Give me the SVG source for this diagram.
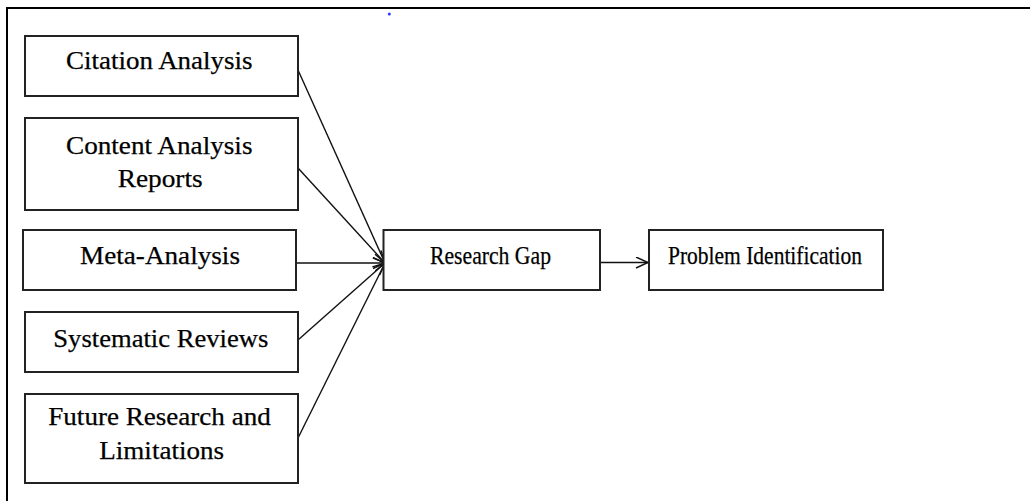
<svg xmlns="http://www.w3.org/2000/svg" width="1030" height="501" viewBox="0 0 1030 501">
<defs>
<style>
.box{fill:#fff;stroke:#222;stroke-width:2}
.lbl{font-family:"Liberation Serif","Times New Roman",serif;font-size:26px;fill:#000;stroke:#000;stroke-width:0.25}
.con{stroke:#111;stroke-width:1.4;fill:none;marker-end:url(#arr)}
</style>
<marker id="arr" markerUnits="userSpaceOnUse" markerWidth="16" markerHeight="14" refX="13" refY="6" orient="auto">
<path d="M1,0.5 L13,6 L1,11.5" fill="none" stroke="#111" stroke-width="1.4"/>
</marker>
</defs>
<rect width="1030" height="501" fill="#fff"/>
<g id="frame">
<path d="M7,501 V8 H1030" fill="none" stroke="#000" stroke-width="2"/>
<circle cx="389.3" cy="14" r="1.5" fill="#3030ff"/>
</g>
<g id="connectors">
<line class="con" x1="298" y1="70" x2="385" y2="263"/>
<line class="con" x1="298" y1="168" x2="385" y2="263"/>
<line class="con" x1="296" y1="263" x2="385" y2="263"/>
<line class="con" x1="298" y1="340" x2="385" y2="263"/>
<line class="con" x1="298" y1="438" x2="385" y2="263"/>
<line class="con" x1="600" y1="262.5" x2="648" y2="262.5"/>
</g>
<g id="citation">
<rect class="box" x="25" y="36" width="273" height="60"/>
<text class="lbl" x="66" y="68.5" textLength="186.5" lengthAdjust="spacingAndGlyphs">Citation Analysis</text>
</g>
<g id="content">
<rect class="box" x="25" y="118" width="273" height="92"/>
<text class="lbl" x="66" y="153.5" textLength="186.5" lengthAdjust="spacingAndGlyphs">Content Analysis</text>
<text class="lbl" x="117.7" y="187" textLength="85" lengthAdjust="spacingAndGlyphs">Reports</text>
</g>
<g id="meta">
<rect class="box" x="23" y="230" width="273" height="60"/>
<text class="lbl" x="80" y="263.5" textLength="160" lengthAdjust="spacingAndGlyphs">Meta-Analysis</text>
</g>
<g id="systematic">
<rect class="box" x="25" y="312" width="273" height="60"/>
<text class="lbl" x="53.3" y="347" textLength="215" lengthAdjust="spacingAndGlyphs">Systematic Reviews</text>
</g>
<g id="future">
<rect class="box" x="25" y="394" width="273" height="89"/>
<text class="lbl" x="48.3" y="425" textLength="222.4" lengthAdjust="spacingAndGlyphs">Future Research and</text>
<text class="lbl" x="99.3" y="458.5" textLength="124.7" lengthAdjust="spacingAndGlyphs">Limitations</text>
</g>
<g id="research-gap">
<rect class="box" x="383.5" y="230" width="216.5" height="60"/>
<text class="lbl" x="430" y="263.5" textLength="121" lengthAdjust="spacingAndGlyphs">Research Gap</text>
</g>
<g id="problem">
<rect class="box" x="649" y="230" width="234" height="60"/>
<text class="lbl" x="668" y="263.5" textLength="194" lengthAdjust="spacingAndGlyphs">Problem Identification</text>
</g>
</svg>
